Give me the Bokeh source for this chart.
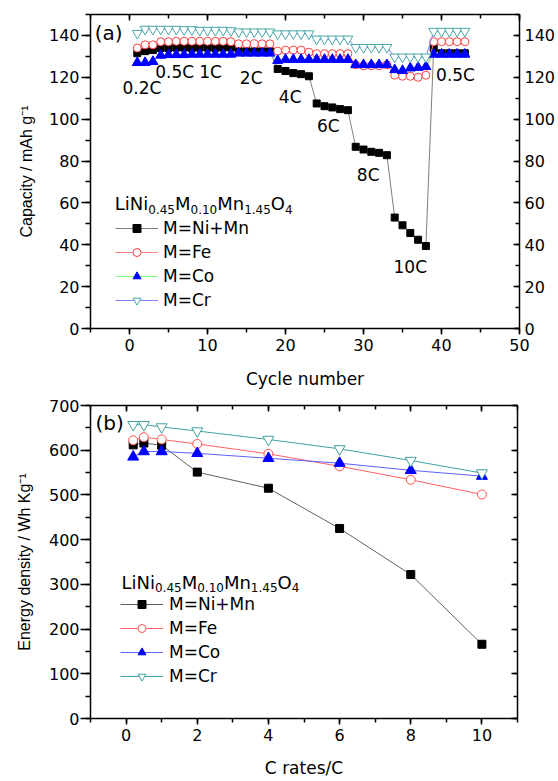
from bokeh.plotting import figure
from bokeh.models import (LinearAxis, SingleIntervalTicker, Range1d, Legend,
                          LegendItem, Label, CustomJSTickFormatter)
from bokeh.layouts import column
from bokeh.core.properties import value
from bokeh.embed import file_html
from bokeh.resources import INLINE

# ---------------- data: panel (a) ----------------
cycles = list(range(1, 44))
cap_nimn = [131.5, 132.5, 133.0,
            134.0, 134.0, 134.2, 134.2, 134.0, 134.2, 134.2, 134.0, 134.2, 134.2,
            132.4, 132.4, 132.4, 132.4, 132.4,
            124.0, 123.0, 122.0, 121.5, 120.5,
            107.5, 106.2, 105.6, 104.8, 104.3,
            86.8, 85.5, 84.4, 83.9, 82.8,
            53.0, 49.3, 45.6, 42.4, 39.4,
            134.0, 131.5, 131.5, 131.5, 131.5]
cap_fe = [134.0, 135.5, 135.5,
          137.0, 137.0, 137.2, 137.2, 137.2, 137.2, 137.2, 137.2, 137.2, 137.0,
          136.0, 136.0, 136.0, 136.0, 136.0,
          132.5, 133.0, 133.0, 133.0, 132.0,
          131.3, 131.3, 131.3, 131.3, 131.3,
          126.0, 125.5, 125.5, 125.5, 126.0,
          121.0, 120.5, 120.5, 120.0, 121.0,
          137.0, 137.0, 137.0, 137.0, 137.0]
cap_co = [127.0, 127.0, 127.5,
          130.5, 130.8, 130.8, 130.8, 131.0, 131.0, 131.0, 131.0, 131.0, 131.0,
          131.5, 131.5, 131.5, 131.5, 131.5,
          128.0, 128.5, 128.5, 128.5, 128.5,
          128.5, 128.5, 128.5, 128.5, 128.5,
          126.0, 126.0, 126.0, 126.0, 126.0,
          123.6, 123.2, 124.4, 124.7, 125.1,
          131.0, 131.0, 131.0, 131.0, 131.0]
cap_cr = [141.0, 143.0, 143.0,
          143.0, 143.0, 143.0, 142.8, 142.8, 142.5, 142.5, 142.5, 142.5, 142.3,
          141.7, 141.7, 141.7, 141.7, 141.7,
          140.8, 140.8, 140.8, 140.8, 140.8,
          138.3, 138.3, 138.3, 138.3, 138.3,
          134.3, 134.3, 134.3, 134.3, 134.3,
          129.7, 129.7, 129.7, 129.7, 129.7,
          142.0, 142.0, 142.0, 142.0, 142.0]
rate_text = ["0.2C", "0.5C", "1C", "2C", "4C", "6C", "8C", "10C", "0.5C"]
rate_x = [1.6, 5.8, 10.4, 15.6, 20.6, 25.5, 30.6, 36.0, 41.8]
rate_y = [114.7, 122.3, 122.3, 119.9, 110.4, 96.8, 73.1, 29.6, 120.9]

# ---------------- data: panel (b) ----------------
c_rates = [0.2, 0.5, 1, 2, 4, 6, 8, 10]
e_nimn = [612, 616, 611, 551, 515, 425, 322, 166]
e_fe = [622, 629, 624, 614, 592, 564, 534, 501]
e_co = [585, 597, 597, 593, 582, 571, 555, 542]
e_cr = [657, 657, 652, 643, 624, 603, 577, 549]

series_names = ["M=Ni+Mn", "M=Fe", "M=Co", "M=Cr"]

FONT = "DejaVu Sans"
LFONT = "Liberation Sans"

# DejaVu Sans advance widths (em) for the formula pieces
ADV = {"L": 0.557, "i": 0.278, "N": 0.748, "M": 0.863, "n": 0.634, "O": 0.787,
       ".": 0.318}
for d in "0123456789":
    ADV[d] = 0.636


def twidth(t, size):
    return sum(ADV.get(c, 0.6) for c in t) * size


def formula(p, x, y, big, small, drop):
    parts = [("LiNi", big, 0), ("0.45", small, -drop), ("M", big, 0),
             ("0.10", small, -drop), ("Mn", big, 0), ("1.45", small, -drop),
             ("O", big, 0), ("4", small, -drop)]
    off = 0.0
    for t, s, dy in parts:
        p.add_layout(Label(x=x, y=y, x_offset=off, y_offset=dy, text=t,
                           text_font=FONT, text_font_size=f"{s}px",
                           text_color="black", text_baseline="alphabetic",
                           text_align="left"))
        off += twidth(t, s)


def empty_fmt():
    return CustomJSTickFormatter(code="return ''")


def style_axis(ax, major, minor, inward=False, standoff=2):
    ax.axis_line_width = 1.5
    ax.axis_line_color = "black"
    ax.major_tick_line_width = 1.5
    ax.minor_tick_line_width = 1.5
    ax.major_tick_line_color = "black"
    ax.minor_tick_line_color = "black"
    if inward:
        ax.major_tick_in, ax.major_tick_out = major, 0
        ax.minor_tick_in, ax.minor_tick_out = minor, 0
    else:
        ax.major_tick_in, ax.major_tick_out = 0, major
        ax.minor_tick_in, ax.minor_tick_out = 0, minor
    ax.major_label_text_font = FONT
    ax.major_label_text_font_size = "16px"
    ax.major_label_text_color = "black"
    ax.major_label_standoff = standoff
    ax.axis_label_text_font_style = "normal"
    ax.axis_label_text_color = "black"


def make_legend(p, items, loc, standoff):
    leg = Legend(items=items, location=loc, padding=0, margin=0, spacing=4,
                 glyph_width=43, glyph_height=20, label_height=20,
                 label_standoff=standoff, label_text_font=FONT,
                 label_text_font_size="17px", label_text_color="black",
                 background_fill_alpha=0, border_line_alpha=0)
    p.add_layout(leg)


# ================= panel (a) =================
pa = figure(frame_width=429, frame_height=314, min_border_left=87,
            min_border_right=42, min_border_top=14, min_border_bottom=64,
            x_range=Range1d(-5, 50), y_range=Range1d(0, 150),
            output_backend="svg", toolbar_location=None)
pa.grid.visible = False
pa.outline_line_color = None
pa.background_fill_color = "white"
pa.border_fill_color = "white"

pa.xaxis.ticker = SingleIntervalTicker(interval=10, num_minor_ticks=2)
pa.yaxis.ticker = SingleIntervalTicker(interval=20, num_minor_ticks=2)
pa.xaxis.axis_label = "Cycle number"
pa.yaxis.axis_label = "Capacity / mAh g⁻¹"
style_axis(pa.xaxis[0], 6, 4, standoff=4)
style_axis(pa.yaxis[0], 9, 5, standoff=2)
pa.xaxis.axis_label_text_font = FONT
pa.xaxis.axis_label_text_font_size = "17px"
pa.xaxis.axis_label_standoff = 15
pa.yaxis.axis_label_text_font = LFONT
pa.yaxis.axis_label_text_font_size = "16px"
pa.yaxis.axis_label_standoff = 11

ra = LinearAxis(ticker=SingleIntervalTicker(interval=20, num_minor_ticks=2))
style_axis(ra, 6, 4, inward=True, standoff=5)
pa.add_layout(ra, "right")
ta = LinearAxis(ticker=SingleIntervalTicker(interval=10, num_minor_ticks=2),
                formatter=empty_fmt())
style_axis(ta, 6, 4, inward=True, standoff=0)
ta.major_label_text_font_size = "0px"
pa.add_layout(ta, "above")

l1 = pa.line(cycles, cap_nimn, line_color="#808080", line_width=1)
s1 = pa.scatter(cycles, cap_nimn, marker="square", size=7, fill_color="black",
                line_color="black")
l2 = pa.line(cycles, cap_fe, line_color="#ff8080", line_width=1)
s2 = pa.scatter(cycles, cap_fe, marker="circle", size=8, fill_color="white",
                line_color="#ff4040", line_width=1)
l3 = pa.line(cycles, cap_co, line_color="#80ff80", line_width=1)
s3 = pa.scatter(cycles, cap_co, marker="triangle", size=10, fill_color="#0000ff",
                line_color="#0000ff")
l4 = pa.line(cycles, cap_cr, line_color="#8080ff", line_width=1)
s4 = pa.scatter(cycles, cap_cr, marker="inverted_triangle", size=10,
                fill_color="white", line_color="#4aa8a8", line_width=1)

pa.text(x=rate_x, y=rate_y, text=rate_text, text_font=value(FONT),
        text_font_size=value("17px"), text_align="center",
        text_baseline="middle", text_color="black")
pa.add_layout(Label(x=-4.46, y=141.4, text="(a)", text_font=FONT,
                    text_font_size="20px", text_baseline="middle",
                    text_color="black"))
formula(pa, -1.89, 59.6, 18, 12, 6)
make_legend(pa, [LegendItem(label=series_names[0], renderers=[l1, s1]),
                 LegendItem(label=series_names[1], renderers=[l2, s2]),
                 LegendItem(label=series_names[2], renderers=[l3, s3]),
                 LegendItem(label=series_names[3], renderers=[l4, s4])],
            (25, 18), 5)

# ================= panel (b) =================
pb = figure(frame_width=427, frame_height=313, min_border_left=90,
            min_border_right=41, min_border_top=13, min_border_bottom=63,
            x_range=Range1d(-1, 11), y_range=Range1d(0, 700),
            output_backend="svg", toolbar_location=None)
pb.grid.visible = False
pb.outline_line_color = None
pb.background_fill_color = "white"
pb.border_fill_color = "white"

pb.xaxis.ticker = SingleIntervalTicker(interval=2, num_minor_ticks=2)
pb.yaxis.ticker = SingleIntervalTicker(interval=100, num_minor_ticks=2)
pb.xaxis.axis_label = "C rates/C"
pb.yaxis.axis_label = "Energy density / Wh Kg⁻¹"
style_axis(pb.xaxis[0], 6, 4, standoff=4)
style_axis(pb.yaxis[0], 10, 5, standoff=1)
pb.xaxis.axis_label_text_font = FONT
pb.xaxis.axis_label_text_font_size = "17px"
pb.xaxis.axis_label_standoff = 14
pb.yaxis.axis_label_text_font = LFONT
pb.yaxis.axis_label_text_font_size = "16px"
pb.yaxis.axis_label_standoff = 13

rb = LinearAxis(ticker=SingleIntervalTicker(interval=100, num_minor_ticks=2),
                formatter=empty_fmt())
style_axis(rb, 6, 4, inward=True, standoff=0)
rb.major_label_text_font_size = "0px"
pb.add_layout(rb, "right")
tb = LinearAxis(ticker=SingleIntervalTicker(interval=2, num_minor_ticks=2),
                formatter=empty_fmt())
style_axis(tb, 6, 4, inward=True, standoff=0)
tb.major_label_text_font_size = "0px"
pb.add_layout(tb, "above")

m1 = pb.line(c_rates, e_nimn, line_color="#606060", line_width=1)
n1 = pb.scatter(c_rates, e_nimn, marker="square", size=8, fill_color="black",
                line_color="black")
m2 = pb.line(c_rates, e_fe, line_color="#ff6060", line_width=1)
n2 = pb.scatter(c_rates, e_fe, marker="circle", size=9, fill_color="white",
                line_color="#ff5050", line_width=1)
m3 = pb.line(c_rates, e_co, line_color="#6060ff", line_width=1)
n3 = pb.scatter(c_rates, e_co, marker="triangle", size=11, fill_color="#0000ff",
                line_color="#0000ff")
m4 = pb.line(c_rates, e_cr, line_color="#40a0a0", line_width=1)
n4 = pb.scatter(c_rates, e_cr, marker="inverted_triangle", size=11,
                fill_color="white", line_color="#40a0a0", line_width=1)

pb.add_layout(Label(x=-0.86, y=660, text="(b)", text_font=FONT,
                    text_font_size="20px", text_baseline="middle",
                    text_color="black"))
formula(pb, -0.13, 305, 18, 12, 5)
make_legend(pb, [LegendItem(label=series_names[0], renderers=[m1, n1]),
                 LegendItem(label=series_names[1], renderers=[m2, n2]),
                 LegendItem(label=series_names[2], renderers=[m3, n3]),
                 LegendItem(label=series_names[3], renderers=[m4, n4])],
            (30, 32), 6)

layout = column(pa, pb, spacing=0)
open("out.html", "w").write(file_html(layout, INLINE))
